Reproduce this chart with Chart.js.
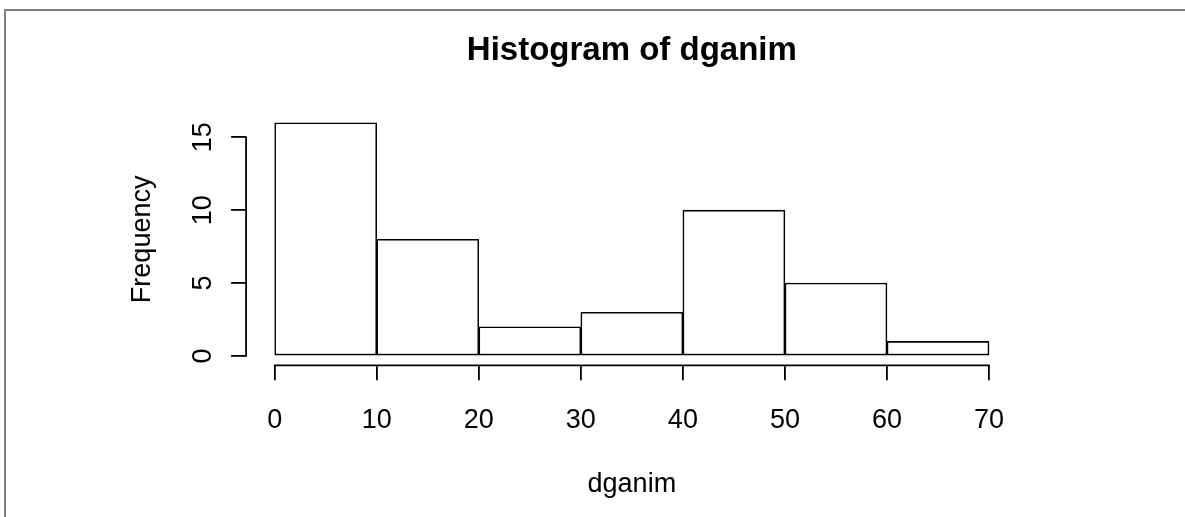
<!DOCTYPE html>
<html>
<head>
<meta charset="utf-8">
<script src="https://cdn.jsdelivr.net/npm/chart.js@4"></script>
<style>
  html, body { margin: 0; padding: 0; background: #fff; }
  .wrap { position: relative; width: 1185px; height: 517px; overflow: hidden; }
  .frame { position: absolute; left: 4px; top: 9px; right: 0; bottom: 0;
           border-top: 2px solid #808080; border-left: 2px solid #808080; pointer-events: none; }
  canvas { position: absolute; left: 0; top: 0; }
</style>
</head>
<body>
<div class="wrap">
  <canvas id="hist" width="1185" height="517"></canvas>
  <div class="frame"></div>
</div>
<script>
// data histogram
const binEdges = [0, 10, 20, 30, 40, 50, 60, 70];
const counts   = [16, 8, 2, 3, 10, 5, 1];
const xTicks   = [0, 10, 20, 30, 40, 50, 60, 70];
const yTicks   = [0, 5, 10, 15];

const FONT = "'Liberation Sans', Arial, Helvetica, sans-serif";

// titik tengah tiap bin
const points = counts.map((c, i) => ({ x: (binEdges[i] + binEdges[i + 1]) / 2, y: c }));

// garis sumbu gaya R: hanya dari tick pertama sampai tick terakhir
const rAxisLines = {
  id: 'rAxisLines',
  afterDraw(chart) {
    const { ctx, scales: { x, y } } = chart;
    ctx.save();
    ctx.strokeStyle = '#000';
    ctx.lineWidth = 1.8;
    ctx.lineCap = 'square';
    ctx.beginPath();
    ctx.moveTo(x.getPixelForValue(xTicks[0]), x.top);
    ctx.lineTo(x.getPixelForValue(xTicks[xTicks.length - 1]), x.top);
    ctx.moveTo(y.right, y.getPixelForValue(yTicks[0]));
    ctx.lineTo(y.right, y.getPixelForValue(yTicks[yTicks.length - 1]));
    ctx.stroke();
    ctx.restore();
  }
};

// 4% extra range like R's usr
const xSpan = binEdges[binEdges.length - 1] - binEdges[0];
const ySpan = Math.max(...counts);

new Chart(document.getElementById('hist'), {
  type: 'bar',
  data: {
    datasets: [{
      data: points,
      backgroundColor: '#fff',
      borderColor: '#000',
      borderWidth: 1.6,
      borderSkipped: false,
      barPercentage: 1,
      categoryPercentage: 1
    }]
  },
  options: {
    responsive: false,
    animation: false,
    layout: { padding: { left: 0, right: 167.4, top: 0, bottom: 0 } },
    plugins: {
      legend: { display: false },
      tooltip: { enabled: false },
      title: {
        display: true,
        fullSize: false,
        text: 'Histogram of dganim',
        color: '#000',
        font: { family: FONT, size: 33, weight: 'bold', lineHeight: 1.2 },
        padding: { top: 31.5, bottom: 42.3 }
      }
    },
    scales: {
      x: {
        type: 'linear',
        offset: false,
        min: binEdges[0] - xSpan * 0.04,
        max: binEdges[binEdges.length - 1] + xSpan * 0.04,
        afterBuildTicks: (s) => { s.ticks = xTicks.map(v => ({ value: v })); },
        afterFit: (s) => { s.height = 151.7; },
        border: { display: false },
        grid: { offset: false, drawOnChartArea: false, drawTicks: true, tickLength: 15, color: '#000', lineWidth: 1.8 },
        ticks: { color: '#000', padding: 24.5, maxRotation: 0, autoSkip: false,
                 font: { family: FONT, size: 27, lineHeight: 1.2 } },
        title: { display: true, text: 'dganim', color: '#000',
                 font: { family: FONT, size: 27, lineHeight: 1.2 }, padding: { top: 0, bottom: 16.5 } }
      },
      y: {
        type: 'linear',
        min: -ySpan * 0.04,
        max: ySpan * 1.04,
        afterBuildTicks: (s) => { s.ticks = yTicks.map(v => ({ value: v })); },
        afterFit: (s) => { s.width = 246.1; },
        border: { display: false },
        grid: { drawOnChartArea: false, drawTicks: true, tickLength: 15, color: '#000', lineWidth: 1.8 },
        ticks: { color: '#000', padding: 12.8, minRotation: 90, maxRotation: 90, crossAlign: 'center',
                 autoSkip: false, font: { family: FONT, size: 27, lineHeight: 1.2 } },
        title: { display: true, text: 'Frequency', color: '#000',
                 font: { family: FONT, size: 27, lineHeight: 1.2 }, padding: { top: 126, bottom: 0 } }
      }
    }
  },
  plugins: [rAxisLines]
});
</script>
</body>
</html>
